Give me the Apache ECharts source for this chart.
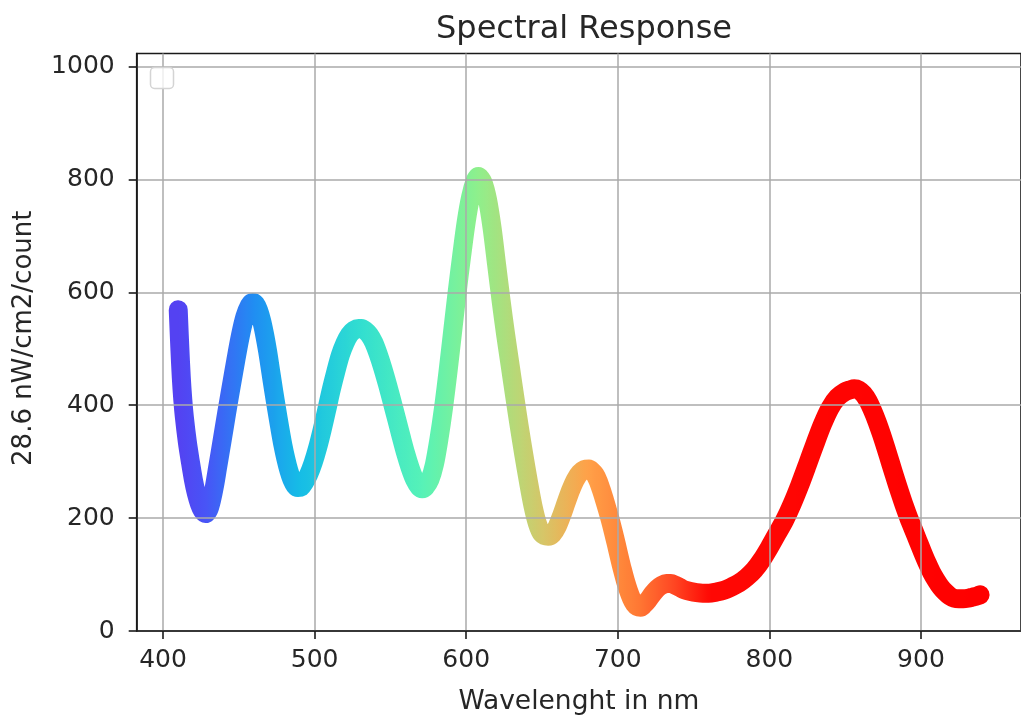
<!DOCTYPE html>
<html>
<head>
<meta charset="utf-8">
<title>Spectral Response</title>
<script src="https://cdn.jsdelivr.net/npm/echarts@6/dist/echarts.min.js"></script>
<style>
  html, body { margin: 0; padding: 0; background: #ffffff; }
  #chart { width: 1021px; height: 721px; }
</style>
</head>
<body>
<div id="chart"></div>
<script>
// Sensor response curve, sampled along the wavelength axis (nm)
const wavelengths = [
  410, 411, 412, 413, 414, 416, 418, 420, 422, 424,
  426, 428, 430, 432, 434, 436, 439, 442, 445, 448,
  451, 454, 457, 459, 461, 463, 465, 467, 469, 471,
  473, 475, 477, 479, 481, 483, 485, 487, 489, 491,
  493, 496, 499, 502, 505, 508, 511, 514, 517, 520,
  523, 526, 529, 531, 533, 536, 539, 542, 545, 548,
  551, 554, 557, 560, 563, 566, 569, 571, 573, 576,
  579, 582, 585, 588, 591, 594, 597, 600, 603, 606,
  608, 611, 614, 617, 620, 623, 626, 629, 632, 635,
  638, 641, 644, 647, 650, 654, 657, 660, 663, 666,
  669, 672, 675, 678, 681, 683, 685, 687, 689, 691,
  693, 695, 697, 699, 701, 703, 705, 707, 709, 711,
  713, 715, 717, 720, 723, 726, 729, 732, 735, 738,
  741, 744, 748, 752, 756, 760, 765, 770, 775, 780,
  785, 790, 795, 800, 805, 810, 815, 820, 825, 830,
  835, 840, 845, 850, 853, 856, 859, 862, 865, 868,
  871, 874, 877, 880, 883, 886, 889, 892, 895, 898,
  901, 904, 907, 910, 913, 916, 919, 922, 925, 928,
  931, 934, 937, 939
];
const responses = [
  569, 505, 450, 410, 380, 335, 300, 268, 243, 225,
  213, 208, 214, 232, 258, 290, 338, 387, 434, 480,
  523, 557, 577, 582, 579, 568, 550, 525, 495, 460,
  425, 392, 360, 330, 305, 284, 268, 258, 254, 255,
  262, 277, 298, 325, 357, 392, 428, 460, 489, 510,
  525, 533, 536, 536, 533, 525, 511, 490, 465, 437,
  407, 376, 345, 315, 289, 268, 255, 252, 255, 268,
  295, 340, 395, 460, 530, 600, 665, 725, 770, 798,
  805, 795, 765, 715, 650, 585, 525, 470, 415, 362,
  312, 265, 222, 190, 172, 168, 172, 185, 205, 228,
  250, 268, 280, 286, 287, 283, 277, 266, 251, 234,
  216, 197, 176, 154, 131, 109, 89, 72, 58, 48,
  43, 42, 46, 55, 66, 75, 81, 84, 84, 81,
  77, 73, 70, 68, 67, 67, 69, 72, 78, 85,
  95, 108, 126, 148, 172, 196, 225, 258, 294, 331,
  366, 395, 414, 424, 427, 429, 427, 420, 408, 391,
  371, 348, 323, 297, 271, 246, 222, 200, 180, 160,
  140, 121, 104, 90, 78, 69, 62, 58, 57, 57,
  58, 60, 62, 64
];

const xTicks = [400, 500, 600, 700, 800, 900];
const yTicks = [0, 200, 400, 600, 800, 1000];

const titleText = 'Spectral Response';
const xName = 'Wavelenght in nm';
const yName = '28.6 nW/cm2/count';

// Colour ramp along the spectrum: stops of [wavelength, [r, g, b]]
const hueStops = [
  [410, [84, 66, 242]],
  [428, [72, 84, 246]],
  [460, [32, 142, 242]],
  [490, [22, 188, 230]],
  [530, [50, 222, 208]],
  [570, [86, 242, 184]],
  [607, [142, 240, 140]],
  [650, [214, 198, 104]],
  [680, [255, 160, 72]],
  [712, [255, 122, 52]],
  [735, [255, 74, 36]],
  [760, [255, 8, 4]],
  [940, [255, 0, 0]]
];

function hueAt(w) {
  if (w <= hueStops[0][0]) return hueStops[0][1];
  for (let i = 1; i < hueStops.length; i++) {
    const [w1, c1] = hueStops[i];
    const [w0, c0] = hueStops[i - 1];
    if (w <= w1) {
      const t = (w - w0) / (w1 - w0);
      return c0.map((v, k) => Math.round(v + (c1[k] - v) * t));
    }
  }
  return hueStops[hueStops.length - 1][1];
}

const rampMin = wavelengths[0];
const rampMax = wavelengths[wavelengths.length - 1];
const rampColors = [];
for (let w = rampMin; w <= rampMax; w += 2) {
  const c = hueAt(w);
  rampColors.push('rgb(' + c.join(',') + ')');
}

const points = wavelengths.map((w, i) => [w, responses[i]]);

const FONT = 'DejaVu Sans';
const INK = '#262626';
const SPINE = '#1a1a1a';
const GRID = 'rgba(170,170,170,0.75)';

const chart = echarts.init(document.getElementById('chart'), null, { renderer: 'canvas' });

chart.setOption({
  backgroundColor: '#ffffff',
  animation: false,
  grid: {
    left: 136.7,
    top: 53.5,
    width: 893.8,
    height: 580.8,
    show: true,
    borderColor: SPINE,
    borderWidth: 1.6,
    backgroundColor: 'transparent'
  },
  visualMap: {
    show: false,
    type: 'continuous',
    dimension: 0,
    min: rampMin,
    max: rampMax,
    inRange: { color: rampColors }
  },
  xAxis: {
    type: 'value',
    min: 382.6,
    max: 966,
    minInterval: 100,
    maxInterval: 100,
    name: xName,
    nameLocation: 'middle',
    nameGap: 58,
    nameTextStyle: { fontFamily: FONT, fontSize: 26.5, color: INK },
    axisLine: { show: true, onZero: false, lineStyle: { color: SPINE, width: 1.6 } },
    axisTick: {
      show: true, inside: false, length: 8, customValues: xTicks,
      lineStyle: { color: SPINE, width: 1.6 }
    },
    axisLabel: {
      show: true, margin: 17, customValues: xTicks,
      fontFamily: FONT, fontSize: 25, color: INK,
      formatter: (v) => String(v)
    },
    splitLine: { show: true, lineStyle: { color: GRID, width: 2 } }
  },
  yAxis: {
    type: 'value',
    min: 0,
    max: 1023,
    minInterval: 200,
    maxInterval: 200,
    name: yName,
    nameLocation: 'middle',
    nameRotate: 90,
    nameGap: 99,
    nameTextStyle: { fontFamily: FONT, fontSize: 26, color: INK, padding: [0, 0, 0, 8] },
    axisLine: { show: true, onZero: false, lineStyle: { color: SPINE, width: 1.6 } },
    axisTick: {
      show: true, inside: false, length: 8, customValues: yTicks,
      lineStyle: { color: SPINE, width: 1.6 }
    },
    axisLabel: {
      show: true, margin: 22, customValues: yTicks,
      fontFamily: FONT, fontSize: 25, color: INK,
      formatter: (v) => String(v)
    },
    splitLine: { show: true, lineStyle: { color: GRID, width: 2 } }
  },
  series: [{
    type: 'line',
    z: -1,
    data: points,
    smooth: 0.3,
    symbol: 'none',
    clip: true,
    lineStyle: { width: 19, cap: 'round', join: 'round' }
  }],
  graphic: [
    {
      type: 'text',
      x: 584,
      y: 30,
      style: {
        text: titleText,
        fontFamily: FONT,
        fontSize: 32,
        fill: INK,
        align: 'center',
        verticalAlign: 'middle'
      }
    },
    {
      // empty legend frame in the upper-left corner
      type: 'rect',
      shape: { x: 150.5, y: 67.5, width: 23, height: 21, r: 4 },
      style: { fill: 'rgba(255,255,255,0.8)', stroke: '#d4d4d4', lineWidth: 1.5 },
      z: 100
    }
  ]
});
</script>
</body>
</html>
